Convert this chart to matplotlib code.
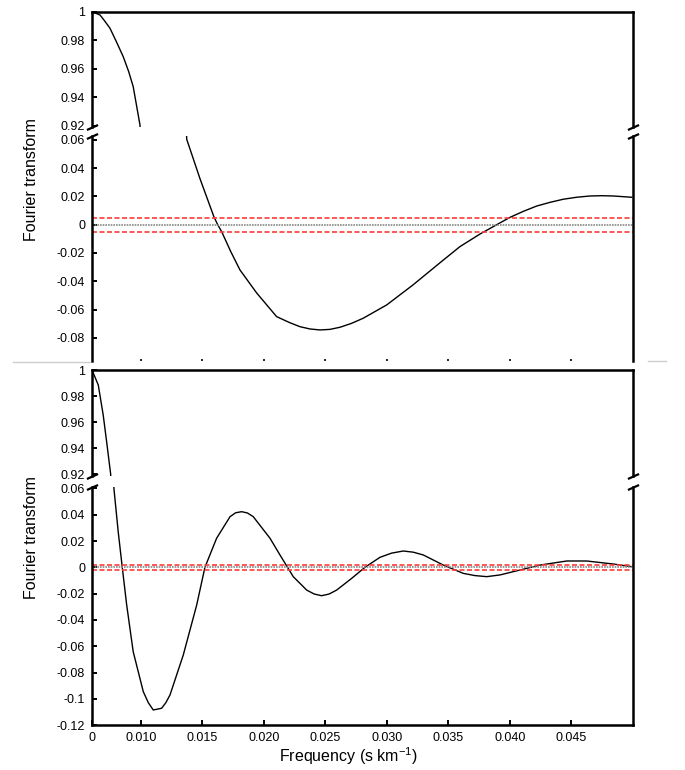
import matplotlib
matplotlib.use('Agg')
import matplotlib.pyplot as plt
from matplotlib.lines import Line2D

plt.rcParams['font.family'] = ['Liberation Sans', 'DejaVu Sans']
plt.rcParams['mathtext.fontset'] = 'custom'
plt.rcParams['mathtext.rm'] = 'Liberation Sans'

# top panel curve
freq_a = [0.00602, 0.00667, 0.00705, 0.00748, 0.00800, 0.00856, 0.00900, 0.00937, 0.00992,
          0.01372, 0.01480, 0.01594, 0.01624, 0.01656, 0.01730, 0.01805, 0.01941, 0.02103, 0.02211,
          0.02293, 0.02374, 0.02455, 0.02536, 0.02618, 0.02710, 0.02805, 0.02998, 0.03211, 0.03431,
          0.03593, 0.03756, 0.03892, 0.04000, 0.04110, 0.04217, 0.04325, 0.04433, 0.04541, 0.04650,
          0.04745, 0.04840, 0.04990]
ft_a = [1.0, 0.9977, 0.9935, 0.9884, 0.9790, 0.9684, 0.9580, 0.9474, 0.9205,
        0.0604, 0.0325, 0.0054, 0.0, -0.0049, -0.0190, -0.032, -0.0483, -0.0650, -0.0693,
        -0.0721, -0.0737, -0.0744, -0.0740, -0.0725, -0.0698, -0.0662, -0.0567, -0.0426, -0.0269,
        -0.0155, -0.0066, 0.0, 0.0052, 0.0095, 0.0132, 0.0158, 0.0180, 0.0194, 0.0203,
        0.0205, 0.0203, 0.0194]

# bottom panel curve
freq_b = [0.00602, 0.00653, 0.00693, 0.00721, 0.00754, 0.00780, 0.00815, 0.00848, 0.00884, 0.00937,
          0.01019, 0.01060, 0.01100, 0.01168, 0.01202, 0.01236, 0.01344, 0.01453, 0.01520, 0.01615,
          0.01724, 0.01770, 0.01819, 0.01866, 0.01913, 0.02049, 0.02130, 0.02238, 0.02347, 0.02408,
          0.02469, 0.02530, 0.02591, 0.02713, 0.02821, 0.02943, 0.03038, 0.03133, 0.03214, 0.03295,
          0.03458, 0.03620, 0.03715, 0.03811, 0.03919, 0.04027, 0.04244, 0.04461, 0.04624, 0.04840,
          0.04990]
ft_b = [1.0, 0.9885, 0.9655, 0.945, 0.92, 0.0601, 0.0271, 0.0, -0.0287, -0.0642,
        -0.0946, -0.1030, -0.1085, -0.1072, -0.1030, -0.0971, -0.0667, -0.0287, 0.0, 0.0221,
        0.0385, 0.0415, 0.0423, 0.0413, 0.0385, 0.0221, 0.0094, -0.0071, -0.0173, -0.0203,
        -0.0216, -0.0203, -0.0173, -0.0084, 0.0, 0.0076, 0.0108, 0.0124, 0.0115, 0.0094,
        0.0017, -0.0046, -0.0063, -0.0071, -0.0058, -0.0033, 0.0017, 0.0048, 0.0048, 0.0025,
        0.0005]

# noise levels (red dashed)
level_a = 0.005
level_b = 0.002

x_ticks = [0.00602, 0.010, 0.015, 0.020, 0.025, 0.030, 0.035, 0.040, 0.045]
x_labels = ['0', '0.010', '0.015', '0.020', '0.025', '0.030', '0.035', '0.040', '0.045']
hi_ticks = [0.92, 0.94, 0.96, 0.98, 1.0]
hi_labels = ['0.92', '0.94', '0.96', '0.98', '1']
lo_ticks_a = [-0.08, -0.06, -0.04, -0.02, 0.0, 0.02, 0.04, 0.06]
lo_labels_a = ['-0.08', '-0.06', '-0.04', '-0.02', '0', '0.02', '0.04', '0.06']
lo_ticks_b = [-0.12, -0.10, -0.08, -0.06, -0.04, -0.02, 0.0, 0.02, 0.04, 0.06]
lo_labels_b = ['-0.12', '-0.1', '-0.08', '-0.06', '-0.04', '-0.02', '0', '0.02', '0.04', '0.06']

W, H = 685, 770
fig = plt.figure(figsize=(W / 100, H / 100), dpi=100)


def box(top, bottom, left=92, right=633):
    return [left / W, 1 - bottom / H, (right - left) / W, (bottom - top) / H]


ax1 = fig.add_axes(box(11.7, 127.1))
ax2 = fig.add_axes(box(136.3, 360.5))
ax3 = fig.add_axes(box(370, 475.7))
ax4 = fig.add_axes(box(487.1, 725.1))

for ax in (ax1, ax2, ax3, ax4):
    ax.set_xlim(0.00602, 0.0500)
    for s in ax.spines.values():
        s.set_linewidth(1.8)
    ax.tick_params(direction='in', length=3.8, width=1.4, labelsize=9, pad=5,
                   right=False, top=False)

ax1.set_ylim(0.919, 1.0)
ax3.set_ylim(0.919, 1.0)
ax2.set_ylim(-0.096, 0.0625)
ax4.set_ylim(-0.12, 0.061)

for ax in (ax1, ax3):
    ax.spines['bottom'].set_visible(False)
    ax.set_yticks(hi_ticks)
    ax.set_yticklabels(hi_labels)
    ax.set_xticks([])
ax2.spines['top'].set_visible(False)
ax2.spines['bottom'].set_visible(False)
ax4.spines['top'].set_visible(False)

ax2.set_yticks(lo_ticks_a)
ax2.set_yticklabels(lo_labels_a)
ax2.set_xticks(x_ticks[1:])
ax2.tick_params(axis='x', labelbottom=False, length=1.8, width=1.2)
ax4.set_yticks(lo_ticks_b)
ax4.set_yticklabels(lo_labels_b)
ax4.set_xticks(x_ticks)
ax4.set_xticklabels(x_labels)

# curves, each drawn on both halves of its broken axis
for ax in (ax1, ax2):
    ax.plot(freq_a, ft_a, color='black', lw=1.0)
for ax in (ax3, ax4):
    ax.plot(freq_b, ft_b, color='black', lw=1.0)

for ax, lev in ((ax2, level_a), (ax4, level_b)):
    ax.axhline(0, color='#888888', lw=1.2, ls=(0, (1, 0.6)))
    ax.axhline(lev, color='#ff3b3b', lw=1.2, ls=(0, (3, 1.5)))
    ax.axhline(-lev, color='#ff3b3b', lw=1.2, ls=(0, (3, 1.5)))

# break marks
mark = [(-1, -0.45), (1, 0.45)]
for ax, yy in ((ax1, 0), (ax2, 1), (ax3, 0), (ax4, 1)):
    ax.plot([0, 1], [yy, yy], transform=ax.transAxes, marker=mark, markersize=8,
            linestyle='none', color='black', mew=1.6, clip_on=False)

fig.text(32 / W, 1 - 180 / H, 'Fourier transform', rotation=90, ha='center', va='center', fontsize=11.5)
fig.text(32 / W, 1 - 538 / H, 'Fourier transform', rotation=90, ha='center', va='center', fontsize=11.5)
fig.text(348 / W, 1 - 756 / H, r'Frequency (s km$^{\mathrm{-1}}$)', ha='center', va='center', fontsize=11.5)

# faint scan remnants of the original panel edge
fig.add_artist(Line2D([13 / W, 90 / W], [1 - 362 / H, 1 - 362 / H], color='#cccccc', lw=1))
fig.add_artist(Line2D([648 / W, 666 / W], [1 - 361 / H, 1 - 361 / H], color='#cccccc', lw=1))

fig.savefig('out.png', dpi=100)
